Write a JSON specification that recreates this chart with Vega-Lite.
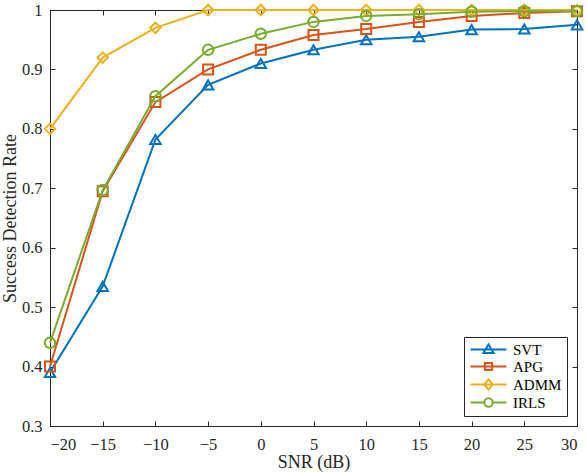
{
  "$schema": "https://vega.github.io/schema/vega-lite/v6.json",
  "autosize": "none",
  "width": 527,
  "height": 416,
  "padding": {"left": 50, "top": 10, "right": 9, "bottom": 48},
  "background": "white",
  "config": {
    "font": "Liberation Serif",
    "view": {"stroke": "#262626", "strokeWidth": 1},
    "axis": {
      "grid": false,
      "domainColor": "#262626",
      "tickColor": "#262626",
      "labelColor": "#262626",
      "titleColor": "#262626",
      "labelFont": "Liberation Serif",
      "titleFont": "Liberation Serif",
      "labelFontSize": 16.5,
      "titleFontSize": 18,
      "titleFontWeight": "normal",
      "tickSize": -5
    }
  },
  "data": {
    "values": [
      {"snr": -20, "rate": 0.39, "method": "SVT"},
      {"snr": -15, "rate": 0.535, "method": "SVT"},
      {"snr": -10, "rate": 0.782, "method": "SVT"},
      {"snr": -5, "rate": 0.874, "method": "SVT"},
      {"snr": 0, "rate": 0.91, "method": "SVT"},
      {"snr": 5, "rate": 0.933, "method": "SVT"},
      {"snr": 10, "rate": 0.95, "method": "SVT"},
      {"snr": 15, "rate": 0.955, "method": "SVT"},
      {"snr": 20, "rate": 0.967, "method": "SVT"},
      {"snr": 25, "rate": 0.968, "method": "SVT"},
      {"snr": 30, "rate": 0.975, "method": "SVT"},
      {"snr": -20, "rate": 0.40, "method": "APG"},
      {"snr": -15, "rate": 0.695, "method": "APG"},
      {"snr": -10, "rate": 0.845, "method": "APG"},
      {"snr": -5, "rate": 0.90, "method": "APG"},
      {"snr": 0, "rate": 0.933, "method": "APG"},
      {"snr": 5, "rate": 0.958, "method": "APG"},
      {"snr": 10, "rate": 0.968, "method": "APG"},
      {"snr": 15, "rate": 0.98, "method": "APG"},
      {"snr": 20, "rate": 0.99, "method": "APG"},
      {"snr": 25, "rate": 0.995, "method": "APG"},
      {"snr": 30, "rate": 0.998, "method": "APG"},
      {"snr": -20, "rate": 0.80, "method": "ADMM"},
      {"snr": -15, "rate": 0.92, "method": "ADMM"},
      {"snr": -10, "rate": 0.97, "method": "ADMM"},
      {"snr": -5, "rate": 1.0, "method": "ADMM"},
      {"snr": 0, "rate": 1.0, "method": "ADMM"},
      {"snr": 5, "rate": 1.0, "method": "ADMM"},
      {"snr": 10, "rate": 1.0, "method": "ADMM"},
      {"snr": 15, "rate": 1.0, "method": "ADMM"},
      {"snr": 20, "rate": 1.0, "method": "ADMM"},
      {"snr": 25, "rate": 1.0, "method": "ADMM"},
      {"snr": 30, "rate": 1.0, "method": "ADMM"},
      {"snr": -20, "rate": 0.44, "method": "IRLS"},
      {"snr": -15, "rate": 0.697, "method": "IRLS"},
      {"snr": -10, "rate": 0.855, "method": "IRLS"},
      {"snr": -5, "rate": 0.933, "method": "IRLS"},
      {"snr": 0, "rate": 0.96, "method": "IRLS"},
      {"snr": 5, "rate": 0.98, "method": "IRLS"},
      {"snr": 10, "rate": 0.99, "method": "IRLS"},
      {"snr": 15, "rate": 0.993, "method": "IRLS"},
      {"snr": 20, "rate": 0.997, "method": "IRLS"},
      {"snr": 25, "rate": 0.998, "method": "IRLS"},
      {"snr": 30, "rate": 0.998, "method": "IRLS"}
    ]
  },
  "layer": [
    {
      "transform": [{"filter": "datum.method === 'SVT'"}],
      "mark": {"type": "line", "strokeWidth": 2, "clip": false, "point": {"shape": "triangle-up", "filled": false, "size": 110, "strokeWidth": 2}},
      "encoding": {
        "x": {
          "field": "snr",
          "type": "quantitative",
          "scale": {"domain": [-20, 30], "nice": false, "zero": false},
          "axis": {"values": [-20, -15, -10, -5, 0, 5, 10, 15, 20, 25, 30], "title": "SNR (dB)", "titlePadding": 1, "labelPadding": 15}
        },
        "y": {
          "field": "rate",
          "type": "quantitative",
          "scale": {"domain": [0.3, 1], "nice": false, "zero": false},
          "axis": {
            "values": [0.3, 0.4, 0.5, 0.6, 0.7, 0.8, 0.9, 1],
            "labelExpr": "datum.value == 1 ? '1' : format(datum.value, '.1f')",
            "title": "Success Detection Rate",
            "titlePadding": 2,
            "labelPadding": 13
          }
        },
        "color": {
          "field": "method",
          "type": "nominal",
          "sort": ["SVT", "APG", "ADMM", "IRLS"],
          "scale": {"domain": ["SVT", "APG", "ADMM", "IRLS"], "range": ["#0072BD", "#D95319", "#EDB120", "#77AC30"]},
          "legend": {
            "title": null,
            "orient": "bottom-right",
            "offset": 10,
            "strokeColor": "#262626",
            "fillColor": "white",
            "padding": 5,
            "labelFontSize": 15,
            "labelFont": "Liberation Serif",
            "labelColor": "#000000",
            "symbolSize": 144,
            "symbolStrokeWidth": 2,
            "symbolOffset": 0,
            "labelOffset": 29,
            "rowPadding": 0,
            "encode": {
              "symbols": {
                "update": {
                  "shape": {"signal": "datum.value === 'SVT' ? 'M-1,0H5M2,-0.85L2.85,0.6L1.15,0.6Z' : datum.value === 'APG' ? 'M-1,0H5M1.4,-0.6H2.6V0.6H1.4Z' : datum.value === 'ADMM' ? 'M-1,0H5M2,-0.85L2.7,0L2,0.85L1.3,0Z' : 'M-1,0H1.3A0.7,0.7,0,1,1,2.7,0A0.7,0.7,0,1,1,1.3,0M2.7,0H5'"}
                }
              }
            }
          }
        }
      }
    },
    {
      "transform": [{"filter": "datum.method === 'APG'"}],
      "mark": {"type": "line", "strokeWidth": 2, "clip": false, "point": {"shape": "square", "filled": false, "size": 100, "strokeWidth": 2}},
      "encoding": {
        "x": {"field": "snr", "type": "quantitative", "axis": null},
        "y": {"field": "rate", "type": "quantitative", "axis": null},
        "color": {"field": "method", "type": "nominal"}
      }
    },
    {
      "transform": [{"filter": "datum.method === 'ADMM'"}],
      "mark": {"type": "line", "strokeWidth": 2, "clip": false, "point": {"shape": "diamond", "filled": false, "size": 110, "strokeWidth": 2}},
      "encoding": {
        "x": {"field": "snr", "type": "quantitative", "axis": null},
        "y": {"field": "rate", "type": "quantitative", "axis": null},
        "color": {"field": "method", "type": "nominal"}
      }
    },
    {
      "transform": [{"filter": "datum.method === 'IRLS'"}],
      "mark": {"type": "line", "strokeWidth": 2, "clip": false, "point": {"shape": "circle", "filled": false, "size": 110, "strokeWidth": 2}},
      "encoding": {
        "x": {"field": "snr", "type": "quantitative", "axis": null},
        "y": {"field": "rate", "type": "quantitative", "axis": null},
        "color": {"field": "method", "type": "nominal"}
      }
    },
    {
      "mark": {"type": "point", "opacity": 0},
      "encoding": {
        "x": {
          "field": "snr",
          "type": "quantitative",
          "axis": {"orient": "top", "values": [-20, -15, -10, -5, 0, 5, 10, 15, 20, 25, 30], "labels": false, "title": null, "domain": false}
        },
        "y": {
          "field": "rate",
          "type": "quantitative",
          "axis": {"orient": "right", "values": [0.3, 0.4, 0.5, 0.6, 0.7, 0.8, 0.9, 1], "labels": false, "title": null, "domain": false}
        }
      }
    }
  ],
  "resolve": {"axis": {"x": "independent", "y": "independent"}}
}
